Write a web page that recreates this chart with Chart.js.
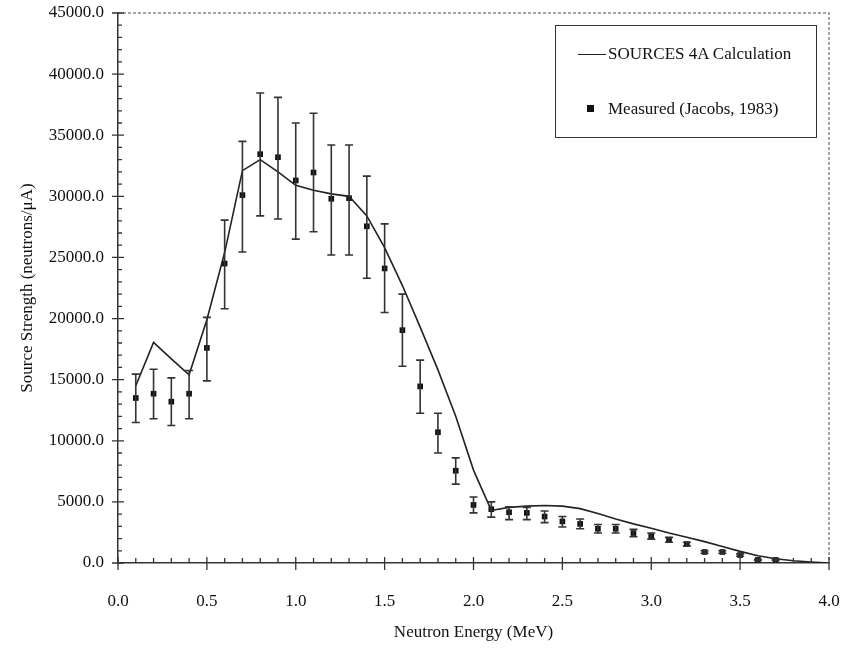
<!DOCTYPE html>
<html>
<head>
<meta charset="utf-8">
<script src="https://cdn.jsdelivr.net/npm/chart.js@4"></script>
<style>
  body { margin: 0; background: #fff; }
  #wrap { position: relative; width: 849px; height: 648px; }
  #legend {
    position: absolute; left: 555px; top: 25px; width: 260px; height: 111px;
    border: 1.5px solid #333; font-family: "Liberation Serif", serif; font-size: 17px; color: #111;
  }
  #legend .row { position: absolute; left: 0; white-space: nowrap; line-height: 20px; }
  #legend .line { position: absolute; left: 22px; top: 10px; width: 28px; border-top: 1.6px solid #222; }
  #legend .sq { position: absolute; left: 31px; top: 6px; width: 7px; height: 7px; background: #111; }
  #legend .txt { position: absolute; left: 52px; top: 0; }
</style>
</head>
<body>
<div id="wrap">
  <canvas id="myChart" width="849" height="648"></canvas>
  <div id="legend">
    <div class="row" style="top:18px"><span class="line"></span><span class="txt">SOURCES 4A Calculation</span></div>
    <div class="row" style="top:73px"><span class="sq"></span><span class="txt">Measured (Jacobs, 1983)</span></div>
  </div>
</div>
<script>
// SOURCES 4A calculation (MeV, neutrons)
var calcEnergy = [0.1, 0.2, 0.3, 0.4, 0.5, 0.6, 0.7, 0.8, 0.9, 1.0,
                  1.1, 1.2, 1.3, 1.4, 1.5, 1.6, 1.7, 1.8, 1.9, 2.0,
                  2.1, 2.2, 2.3, 2.4, 2.5, 2.6, 2.7, 2.8, 2.9, 3.0,
                  3.1, 3.2, 3.3, 3.4, 3.5, 3.6, 3.7, 3.8, 3.9, 4.0]
var calcValues = [14500, 18050, 16700, 15400, 19900, 25400, 32100, 33000, 32000, 30900,
                  30500, 30200, 30000, 28400, 25800, 22700, 19300, 15800, 12000, 7600,
                  4300, 4550, 4650, 4700, 4650, 4450, 4050, 3600, 3200, 2850,
                  2450, 2100, 1750, 1350, 950, 600, 350, 180, 80, 0]

// Measured (Jacobs, 1983)
var measEnergy = [0.1, 0.2, 0.3, 0.4, 0.5, 0.6, 0.7, 0.8, 0.9, 1.0,
                  1.1, 1.2, 1.3, 1.4, 1.5, 1.6, 1.7, 1.8, 1.9, 2.0,
                  2.1, 2.2, 2.3, 2.4, 2.5, 2.6, 2.7, 2.8, 2.9, 3.0,
                  3.1, 3.2, 3.3, 3.4, 3.5, 3.6, 3.7]
var measValues = [13500, 13850, 13200, 13850, 17600, 24500, 30100, 33450, 33200, 31300,
                  31950, 29800, 29850, 27550, 24100, 19050, 14450, 10700, 7550, 4750,
                  4400, 4150, 4100, 3800, 3400, 3200, 2800, 2800, 2450, 2200,
                  1900, 1550, 900, 900, 650, 250, 250]
var measLow  = [11500, 11800, 11250, 11800, 14900, 20800, 25450, 28400, 28150, 26500,
                27100, 25200, 25200, 23300, 20500, 16100, 12250, 9000, 6450, 4100,
                3750, 3550, 3550, 3300, 2950, 2800, 2450, 2450, 2150, 1950,
                1700, 1400, 800, 800, 550, 200, 200]
var measHigh = [15450, 15850, 15150, 15750, 20100, 28050, 34500, 38450, 38100, 36000,
                36800, 34200, 34200, 31650, 27750, 22000, 16600, 12250, 8600, 5400,
                5000, 4600, 4550, 4250, 3800, 3600, 3150, 3150, 2750, 2450,
                2100, 1700, 1000, 1000, 750, 300, 300]

var xTicks = [0, 0.5, 1.0, 1.5, 2.0, 2.5, 3.0, 3.5, 4.0]
var yTicks = [0, 5000, 10000, 15000, 20000, 25000, 30000, 35000, 40000, 45000]

var serif = "'Liberation Serif', 'Times New Roman', serif"

// error bars, minor ticks and the dashed frame
var extras = {
  id: 'extras',
  afterDatasetsDraw: function(chart) {
    var ctx = chart.ctx
    var xs = chart.scales.x, ys = chart.scales.y
    ctx.save()
    ctx.strokeStyle = '#333'
    ctx.lineWidth = 1.6
    for (var i = 0; i < measEnergy.length; i++) {
      var px = xs.getPixelForValue(measEnergy[i])
      var lo = ys.getPixelForValue(measLow[i])
      var hi = ys.getPixelForValue(measHigh[i])
      ctx.beginPath()
      ctx.moveTo(px, lo); ctx.lineTo(px, hi)
      ctx.moveTo(px - 4, lo); ctx.lineTo(px + 4, lo)
      ctx.moveTo(px - 4, hi); ctx.lineTo(px + 4, hi)
      ctx.stroke()
    }
    ctx.restore()
  },
  afterDraw: function(chart) {
    var ctx = chart.ctx
    var xs = chart.scales.x, ys = chart.scales.y
    var a = chart.chartArea
    ctx.save()
    ctx.strokeStyle = '#888'
    ctx.lineWidth = 1.5
    ctx.setLineDash([3, 2])
    ctx.beginPath()
    ctx.moveTo(a.left, a.top); ctx.lineTo(a.right, a.top); ctx.lineTo(a.right, a.bottom)
    ctx.stroke()
    ctx.setLineDash([])
    ctx.strokeStyle = '#333'
    ctx.lineWidth = 1.3
    ctx.beginPath()
    for (var k = 0; k <= 40; k++) {
      var px = xs.getPixelForValue(k / 10)
      if (k % 5 == 0) { ctx.moveTo(px, a.bottom - 6); ctx.lineTo(px, a.bottom + 7) }
      else { ctx.moveTo(px, a.bottom - 5); ctx.lineTo(px, a.bottom) }
    }
    for (var j = 0; j <= 45; j++) {
      var py = ys.getPixelForValue(j * 1000)
      if (j % 5 == 0) { ctx.moveTo(a.left - 6, py); ctx.lineTo(a.left + 6, py) }
      else { ctx.moveTo(a.left, py); ctx.lineTo(a.left + 4, py) }
    }
    ctx.stroke()
    ctx.restore()
  }
}

var ctx = document.getElementById('myChart').getContext('2d')
var chart = new Chart(ctx, {
  type: 'scatter',
  data: {
    datasets: [{
      type: 'line',
      label: 'SOURCES 4A Calculation',
      data: calcEnergy.map(function(e, i) { return {x: e, y: calcValues[i]} }),
      borderColor: '#222',
      borderWidth: 1.6,
      pointRadius: 0,
      tension: 0,
      fill: false
    }, {
      label: 'Measured (Jacobs, 1983)',
      data: measEnergy.map(function(e, i) { return {x: e, y: measValues[i]} }),
      pointStyle: 'rect',
      pointRadius: 4,
      backgroundColor: '#111',
      borderColor: '#111',
      borderWidth: 0
    }]
  },
  options: {
    responsive: false,
    animation: false,
    layout: { padding: { top: 13, right: 20, left: 0, bottom: 0 } },
    plugins: { legend: { display: false }, tooltip: { enabled: false } },
    scales: {
      x: {
        type: 'linear', min: 0, max: 4,
        afterBuildTicks: function(s) { s.ticks = xTicks.map(function(v) { return {value: v} }) },
        afterFit: function(s) { s.height = 85 },
        ticks: { callback: function(v) { return v.toFixed(1) }, color: '#111', padding: 0,
                 font: { family: serif, size: 17 }, maxRotation: 0 },
        grid: { drawOnChartArea: false, drawTicks: true, tickLength: 28, tickColor: 'rgba(0,0,0,0)' },
        border: { color: '#333', width: 1.5 },
        title: { display: true, text: 'Neutron Energy (MeV)', color: '#111',
                 font: { family: serif, size: 17 }, padding: { top: 0, bottom: 5 } }
      },
      y: {
        min: 0, max: 45000,
        afterBuildTicks: function(s) { s.ticks = yTicks.map(function(v) { return {value: v} }) },
        afterFit: function(s) { s.width = 118 },
        ticks: { callback: function(v) { return v.toFixed(1) }, color: '#111', padding: 0,
                 font: { family: serif, size: 17 } },
        grid: { drawOnChartArea: false, drawTicks: true, tickLength: 14, tickColor: 'rgba(0,0,0,0)' },
        border: { color: '#333', width: 1.5 },
        title: { display: true, text: 'Source Strength (neutrons/\u03bcA)', color: '#111',
                 font: { family: serif, size: 17 }, padding: { top: 17, bottom: 0 } }
      }
    }
  },
  plugins: [extras]
})
</script>
</body>
</html>
